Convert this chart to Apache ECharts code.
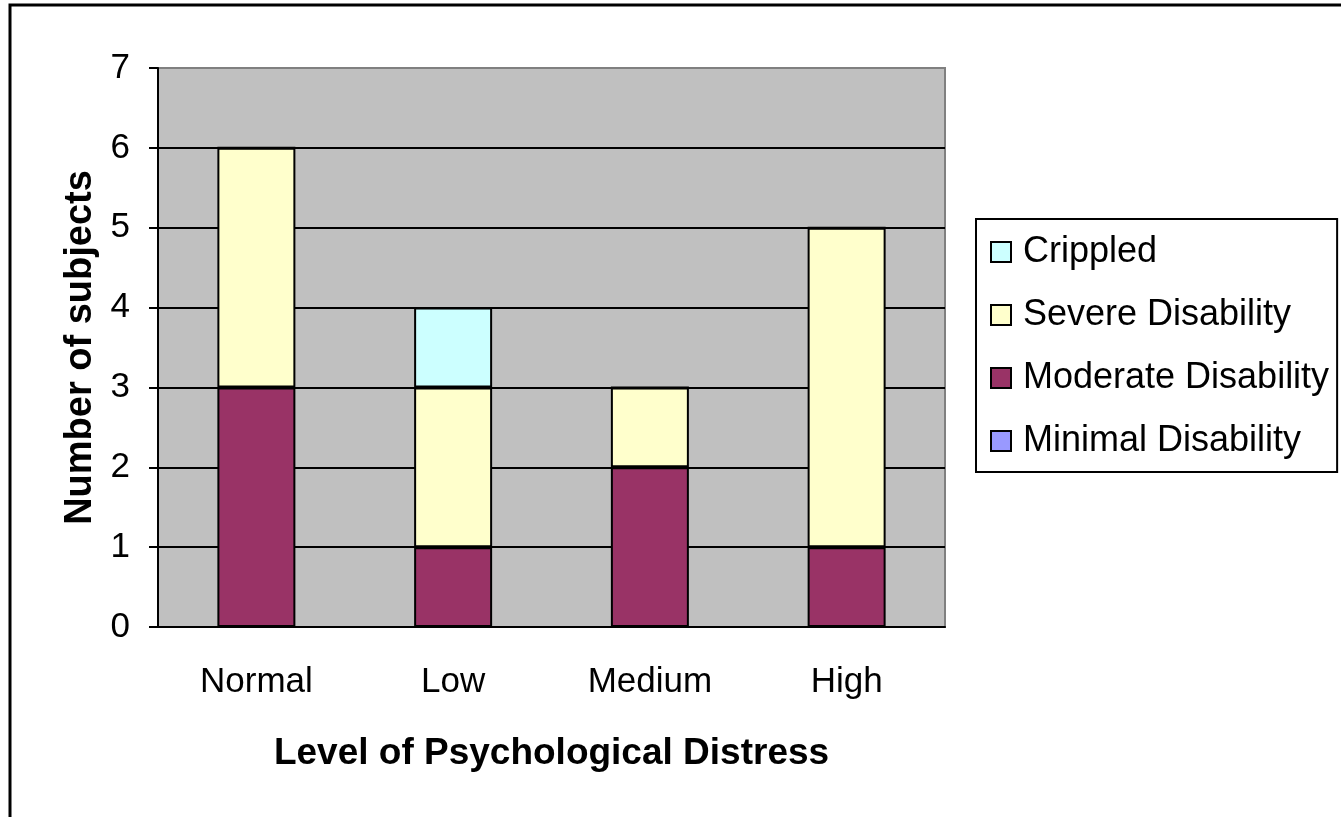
<!DOCTYPE html>
<html>
<head>
<meta charset="utf-8">
<script src="https://cdn.jsdelivr.net/npm/echarts@6/dist/echarts.min.js"></script>
<style>
  html, body { margin: 0; padding: 0; background: #fff; }
  #chart { width: 1341px; height: 817px; }
</style>
</head>
<body>
<div id="chart"></div>
<script>
// categories and counts per disability level
const categories = ['Normal', 'Low', 'Medium', 'High'];
const minimalDisability = [0, 0, 0, 0];
const moderateDisability = [3, 1, 2, 1];
const severeDisability = [3, 2, 1, 4];
const crippled = [0, 1, 0, 0];
const yTicks = [0, 1, 2, 3, 4, 5, 6, 7];

const font = '"Liberation Sans", Arial, sans-serif';
const chart = echarts.init(document.getElementById('chart'));

const barStyle = (color) => ({ color: color, borderColor: '#000', borderWidth: 2 });

chart.setOption({
  animation: false,
  textStyle: { fontFamily: font, color: '#000' },
  graphic: [{
    type: 'rect',
    shape: { x: 10, y: 5, width: 1400, height: 900 },
    style: { fill: 'none', stroke: '#000', lineWidth: 3 },
    z: 100
  }],
  grid: {
    left: 158, right: 396, top: 68, bottom: 190,
    show: true, backgroundColor: '#C0C0C0', borderColor: '#808080', borderWidth: 2
  },
  legend: {
    orient: 'vertical',
    left: 976, top: 219,
    padding: [13, 8, 11, 14],
    itemGap: 23,
    itemWidth: 20, itemHeight: 20,
    icon: 'rect',
    borderColor: '#000', borderWidth: 2,
    data: ['Crippled', 'Severe Disability', 'Moderate Disability', 'Minimal Disability'],
    textStyle: { fontSize: 36, lineHeight: 40, fontFamily: font, color: '#000', padding: [0, 0, 0, 7] },
    itemStyle: { borderColor: '#000', borderWidth: 2 }
  },
  xAxis: {
    type: 'category',
    data: categories,
    name: 'Level of Psychological Distress',
    nameLocation: 'middle',
    nameGap: 108,
    nameTextStyle: { fontSize: 37, fontWeight: 'bold', fontFamily: font, color: '#000' },
    axisLine: { lineStyle: { color: '#000', width: 2 } },
    axisTick: { length: 10, lineStyle: { color: '#000', width: 2 } },
    axisLabel: { fontSize: 35, margin: 38, color: '#000', fontFamily: font }
  },
  yAxis: {
    type: 'value',
    min: 0, max: 7, interval: 1,
    name: 'Number of subjects',
    nameLocation: 'middle',
    nameGap: 58,
    nameTextStyle: { fontSize: 38, fontWeight: 'bold', fontFamily: font, color: '#000' },
    axisLine: { show: true, lineStyle: { color: '#000', width: 2 } },
    axisTick: { show: true, length: 9, lineStyle: { color: '#000', width: 2 } },
    axisLabel: {
      fontSize: 35, margin: 28, color: '#000', fontFamily: font,
      formatter: (v) => yTicks.includes(v) ? String(v) : ''
    },
    splitLine: {
      show: true,
      lineStyle: { color: ['#000', '#000', '#000', '#000', '#000', '#000', '#000', '#808080'], width: 2 }
    }
  },
  series: [
    { name: 'Minimal Disability', type: 'bar', stack: 'all', barWidth: 78, data: minimalDisability, itemStyle: barStyle('#9999FF') },
    { name: 'Moderate Disability', type: 'bar', stack: 'all', barWidth: 78, data: moderateDisability, itemStyle: barStyle('#993366') },
    { name: 'Severe Disability', type: 'bar', stack: 'all', barWidth: 78, data: severeDisability, itemStyle: barStyle('#FFFFCC') },
    { name: 'Crippled', type: 'bar', stack: 'all', barWidth: 78, data: crippled, itemStyle: barStyle('#CCFFFF') }
  ]
});
</script>
</body>
</html>
